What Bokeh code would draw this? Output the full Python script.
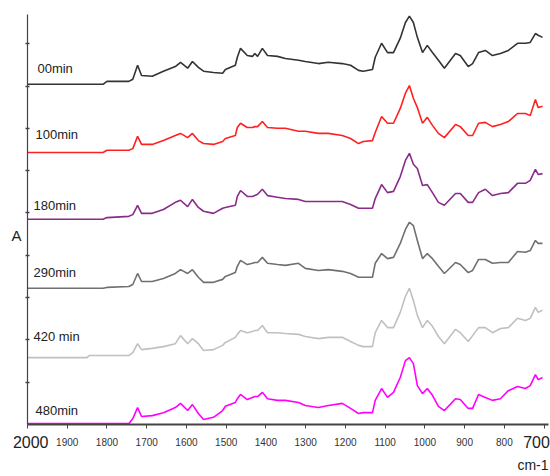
from bokeh.plotting import figure
from bokeh.models import Range1d, Label, FixedTicker, LinearAxis, Title
from bokeh.embed import file_html
from bokeh.resources import INLINE

# wavenumber grid (cm-1)
wavenumber = [2000, 1850, 1845, 1810, 1800, 1745,
              1735, 1723, 1713, 1686, 1658, 1628, 1615, 1597, 1585, 1570,
              1557, 1532, 1509, 1502, 1477, 1472, 1464, 1447, 1434, 1428,
              1421, 1409, 1396, 1371, 1351, 1318, 1301, 1268, 1243, 1208,
              1187, 1167, 1155, 1132, 1125, 1109, 1094, 1079, 1062, 1049,
              1039, 1029, 1019, 1006, 994, 981, 966, 951, 923, 911,
              891, 880, 865, 848, 830, 810, 790, 767, 747, 735,
              722, 715, 704]

# stacked absorbance traces (offset, arbitrary units)
a_00min = [8.04, 8.04, 8.04, 8.04, 8.11, 8.11,
           8.16, 8.49, 8.25, 8.23, 8.35, 8.46, 8.56, 8.42, 8.58, 8.44,
           8.35, 8.32, 8.30, 8.39, 8.49, 8.68, 8.89, 8.72, 8.70, 8.77,
           8.70, 8.89, 8.72, 8.70, 8.65, 8.61, 8.58, 8.53, 8.56, 8.53,
           8.49, 8.37, 8.35, 8.39, 8.68, 9.01, 8.79, 8.79, 9.13, 9.50,
           9.65, 9.50, 9.15, 8.79, 8.96, 8.79, 8.61, 8.42, 8.77, 8.72,
           8.46, 8.53, 8.79, 8.84, 8.72, 8.77, 8.84, 9.01, 9.01, 9.03,
           9.24, 9.20, 9.15]
a_100min = [6.43, 6.43, 6.43, 6.43, 6.48, 6.48,
            6.52, 6.81, 6.62, 6.62, 6.71, 6.83, 6.88, 6.78, 6.88, 6.71,
            6.64, 6.62, 6.69, 6.76, 6.83, 7.02, 7.12, 7.02, 7.02, 7.04,
            7.04, 7.16, 7.02, 7.00, 7.00, 6.93, 6.93, 6.88, 6.88, 6.83,
            6.76, 6.64, 6.69, 6.71, 6.90, 7.28, 7.12, 7.12, 7.47, 7.83,
            8.01, 7.71, 7.49, 7.12, 7.26, 7.07, 6.88, 6.78, 7.09, 7.04,
            6.83, 6.83, 7.12, 7.14, 7.04, 7.09, 7.16, 7.35, 7.35, 7.30,
            7.68, 7.49, 7.52]
a_180min = [4.85, 4.85, 4.85, 4.85, 4.89, 4.92,
            4.96, 5.18, 4.99, 4.99, 5.08, 5.25, 5.30, 5.15, 5.32, 5.13,
            5.04, 4.99, 5.11, 5.13, 5.18, 5.39, 5.53, 5.39, 5.39, 5.41,
            5.44, 5.56, 5.41, 5.37, 5.34, 5.32, 5.27, 5.27, 5.27, 5.27,
            5.20, 5.11, 5.11, 5.11, 5.34, 5.67, 5.48, 5.51, 5.86, 6.24,
            6.41, 6.15, 6.05, 5.65, 5.67, 5.48, 5.25, 5.18, 5.46, 5.46,
            5.25, 5.25, 5.48, 5.56, 5.41, 5.46, 5.48, 5.70, 5.70, 5.77,
            6.03, 5.91, 5.93]
a_290min = [3.22, 3.22, 3.22, 3.22, 3.24, 3.26,
            3.31, 3.57, 3.38, 3.38, 3.45, 3.57, 3.66, 3.57, 3.66, 3.48,
            3.36, 3.36, 3.43, 3.50, 3.59, 3.74, 3.88, 3.78, 3.81, 3.83,
            3.83, 3.95, 3.81, 3.78, 3.76, 3.81, 3.69, 3.64, 3.66, 3.62,
            3.57, 3.48, 3.48, 3.48, 3.81, 4.04, 3.92, 3.95, 4.28, 4.61,
            4.78, 4.70, 4.35, 3.92, 4.04, 3.92, 3.74, 3.57, 3.83, 3.78,
            3.59, 3.64, 3.90, 3.90, 3.81, 3.83, 3.83, 4.09, 4.07, 4.11,
            4.35, 4.28, 4.28]
a_420min = [1.58, 1.58, 1.63, 1.63, 1.63, 1.63,
            1.70, 1.91, 1.77, 1.80, 1.84, 1.91, 2.10, 1.91, 2.03, 1.91,
            1.75, 1.77, 1.87, 1.94, 2.06, 2.13, 2.22, 2.17, 2.20, 2.22,
            2.22, 2.34, 2.17, 2.17, 2.15, 2.13, 2.08, 2.03, 2.06, 2.06,
            1.96, 1.87, 1.84, 1.84, 2.17, 2.46, 2.29, 2.29, 2.65, 3.03,
            3.22, 2.93, 2.58, 2.29, 2.46, 2.32, 2.08, 1.91, 2.25, 2.17,
            1.96, 2.10, 2.29, 2.29, 2.17, 2.27, 2.29, 2.51, 2.46, 2.51,
            2.77, 2.65, 2.70]
a_480min = [0.02, 0.02, 0.02, 0.02, 0.02, 0.02,
            0.14, 0.40, 0.19, 0.21, 0.28, 0.40, 0.50, 0.33, 0.47, 0.26,
            0.12, 0.17, 0.33, 0.43, 0.52, 0.61, 0.71, 0.59, 0.64, 0.66,
            0.66, 0.76, 0.61, 0.57, 0.57, 0.52, 0.45, 0.40, 0.45, 0.50,
            0.38, 0.26, 0.28, 0.28, 0.57, 0.85, 0.64, 0.76, 1.11, 1.51,
            1.58, 1.44, 0.92, 0.73, 0.85, 0.69, 0.43, 0.33, 0.61, 0.59,
            0.38, 0.38, 0.71, 0.64, 0.57, 0.61, 0.80, 0.90, 0.85, 0.92,
            1.18, 1.06, 1.11]

series_names = ["00min", "100min", "180min", "290min", "420 min", "480min"]
series_values = [a_00min, a_100min, a_180min, a_290min, a_420min, a_480min]
series_colors = ["#333333", "#ff2020", "#8a2a8a", "#707070", "#c0c0c0", "#ff00ff"]
label_pos = [(1975, 8.42), (1980, 6.86), (1985, 5.18), (1985, 3.59), (1985, 2.08), (1980, 0.33)]

x_ticks = [1900, 1800, 1700, 1600, 1500, 1400, 1300, 1200, 1100, 1000, 900, 800]
end_tick_labels = {1992: "2000", 719: "700"}

FONT = "Liberation Sans"

p = figure(width=550, height=476, output_backend="svg", toolbar_location=None,
           x_range=Range1d(2000, 689), y_range=Range1d(0, 9.69),
           min_border_left=27, min_border_right=2, min_border_top=14, min_border_bottom=52)
p.outline_line_color = None
p.xgrid.visible = False
p.ygrid.visible = False

for name, vals, col in zip(series_names, series_values, series_colors):
    p.line(wavenumber, vals, line_color=col, line_width=1.6)

for name, (lx, ly) in zip(series_names, label_pos):
    p.add_layout(Label(x=lx, y=ly, text=name, text_font=FONT, text_font_size="13px",
                       text_color="#222222", text_baseline="middle", text_align="left"))

xa = p.xaxis[0]
xa.ticker = FixedTicker(ticks=[2000] + x_ticks + [700])
xa.major_label_overrides = {2000: "", 700: ""}
xa.major_label_text_font = FONT
xa.major_label_text_font_size = "10px"
xa.major_label_text_color = "#333333"
xa.major_label_standoff = 9
xa.major_tick_out = 4
xa.major_tick_in = 0
xa.minor_tick_out = 0
xa.minor_tick_in = 0
xa.axis_line_color = "#444444"
xa.axis_line_width = 2
xa.major_tick_line_color = "#444444"

# larger end labels (2000 / 700) on a second, line-less axis
xb = LinearAxis(ticker=FixedTicker(ticks=list(end_tick_labels.keys())),
                major_label_overrides=end_tick_labels)
xb.axis_line_color = None
xb.major_tick_line_color = None
xb.minor_tick_line_color = None
xb.major_tick_out = 0
xb.major_tick_in = 0
xb.major_label_standoff = -13
xb.major_label_text_font = FONT
xb.major_label_text_font_size = "16px"
xb.major_label_text_color = "#222222"
p.add_layout(xb, "below")

p.add_layout(Title(text="cm-1", align="right", text_font=FONT, text_font_size="14px",
                   text_font_style="normal", text_color="#222222", standoff=8), "below")

ya = p.yaxis[0]
ya.ticker = FixedTicker(ticks=[1, 2, 3, 4, 5, 6, 7, 8, 9])
ya.major_label_overrides = {i: "" for i in range(1, 10)}
ya.major_label_standoff = 0
ya.major_tick_out = 2
ya.major_tick_in = 2
ya.minor_tick_out = 0
ya.minor_tick_in = 0
ya.axis_line_color = "#444444"
ya.axis_line_width = 1.2
ya.major_tick_line_color = "#444444"
ya.major_tick_line_width = 1.5

yb = LinearAxis(ticker=FixedTicker(ticks=[4.47]), major_label_overrides={4.47: "A"})
yb.axis_line_color = None
yb.major_tick_line_color = None
yb.minor_tick_line_color = None
yb.major_tick_out = 0
yb.major_tick_in = 0
yb.major_label_standoff = 4
yb.major_label_text_font = FONT
yb.major_label_text_font_size = "15px"
yb.major_label_text_color = "#222222"
p.add_layout(yb, "left")

open("out.html", "w").write(file_html(p, INLINE))
